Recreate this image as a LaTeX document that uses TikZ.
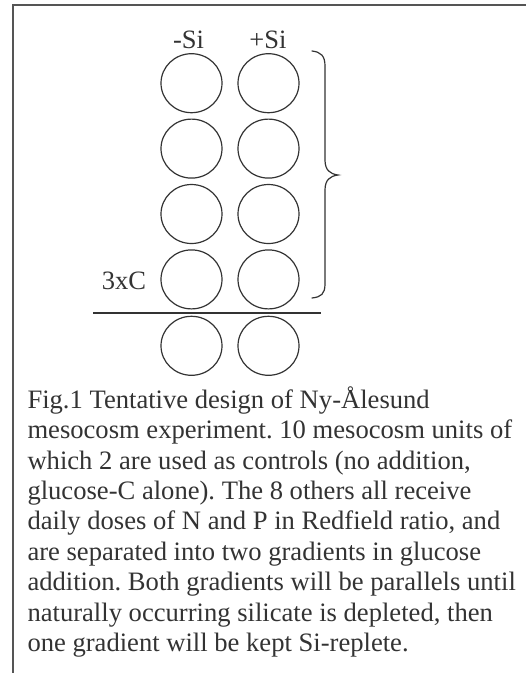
\documentclass[tikz,border=0pt]{standalone}
\usepackage{fontspec}
\setmainfont{Liberation Serif}
\usetikzlibrary{shapes.geometric}
\definecolor{ink}{HTML}{333333}
\definecolor{frame}{HTML}{555555}
\tikzset{
  unit/.style={ellipse, draw=ink, line width=1.2pt, minimum width=61pt, minimum height=59pt, inner sep=0pt},
  lbl/.style={font=\fontsize{26.5}{30}\selectfont, text=ink, inner sep=0pt},
  capline/.style={font=\fontsize{26.6}{30.4}\selectfont, text=ink, inner sep=0pt, anchor=base west},
}
\frenchspacing
\begin{document}
\begin{tikzpicture}[x=1pt,y=-1pt]
\useasboundingbox (0,0) rectangle (526,673);
% frame
\draw[frame, line width=1.6pt] (13,673) -- (13,5) -- (526,5);
% units
\foreach \r/\y in {1/83.2,2/148.6,3/214,4/279.4,5/345.8}{
  \node[unit] (a\r) at (191.5,\y) {};
  \node[unit] (b\r) at (268.5,\y) {};
}
% labels
\node[lbl, anchor=base] (minusSi) at (188.5,48.3) {-Si};
\node[lbl, anchor=base] (plusSi) at (268,48.3) {+Si};
\node[lbl, anchor=base west] (c3) at (101.7,289.3) {3xC};
% separator line
\coordinate (sl) at (93.3,313);
\coordinate (sr) at (321,313);
\draw[ink, line width=1.2pt] (sl) -- (sr);
% brace
\coordinate (bt) at (312,51);
\coordinate (bm) at (338,175);
\coordinate (bb) at (312,298);
\draw[ink, line width=1.2pt, line cap=round]
  (bt) .. controls (321,52) and (325,56) .. (325,66)
  -- (325,160) .. controls (325,170) and (330,174) .. (bm)
  .. controls (330,176) and (325,180) .. (325,190)
  -- (325,284) .. controls (325,294) and (321,297) .. (bb);
% caption
\node[capline] (cap1) at (27.3,408.3) {Fig.1 Tentative design of Ny-Ålesund};
\node[capline] (cap2) at (27.3,438.7) {mesocosm experiment. 10 mesocosm units of};
\node[capline] (cap3) at (27.3,469.1) {which 2 are used as controls (no addition,};
\node[capline] (cap4) at (27.3,499.5) {glucose-C alone). The 8 others all receive};
\node[capline] (cap5) at (27.3,529.9) {daily doses of N and P in Redfield ratio, and};
\node[capline] (cap6) at (27.3,560.3) {are separated into two gradients in glucose};
\node[capline] (cap7) at (27.3,590.7) {addition. Both gradients will be parallels until};
\node[capline] (cap8) at (27.3,621.1) {naturally occurring silicate is depleted, then};
\node[capline] (cap9) at (27.3,651.5) {one gradient will be kept Si-replete.};
\end{tikzpicture}
\end{document}
